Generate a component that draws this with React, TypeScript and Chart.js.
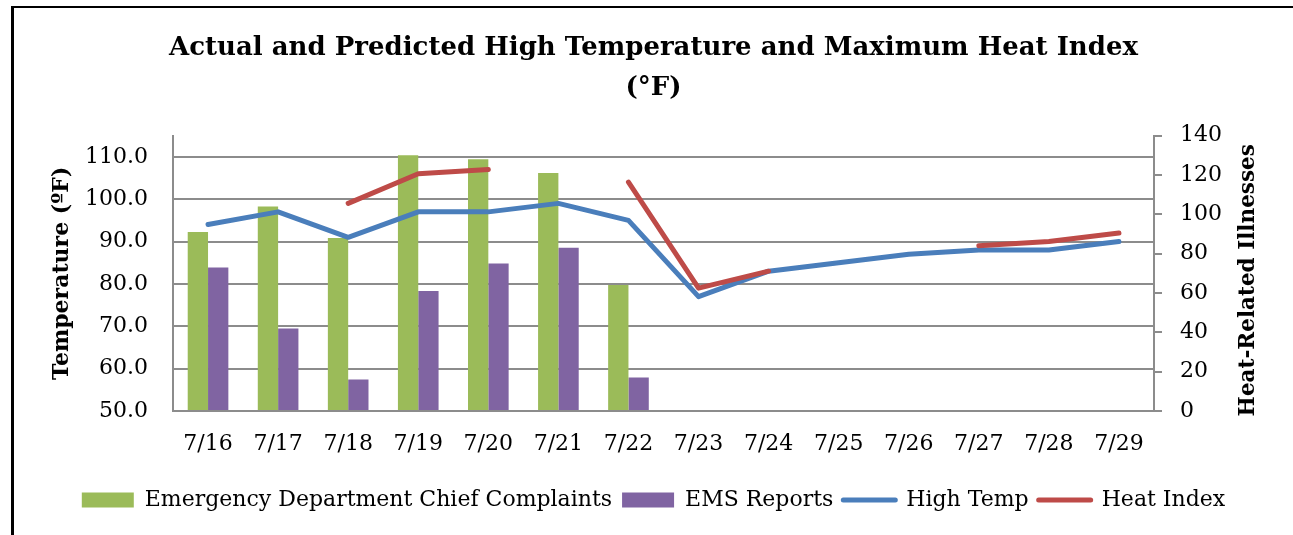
import React, { useEffect, useRef } from 'react';
import { Chart, registerables } from 'chart.js';

Chart.register(...registerables);

const categories = ['7/16', '7/17', '7/18', '7/19', '7/20', '7/21', '7/22', '7/23', '7/24', '7/25', '7/26', '7/27', '7/28', '7/29'];
const edComplaints = [91, 104, 88, 130, 128, 121, 64, null, null, null, null, null, null, null];
const emsReports = [73, 42, 16, 61, 75, 83, 17, null, null, null, null, null, null, null];
const highTemp = [94, 97, 91, 97, 97, 99, 95, 77, 83, 85, 87, 88, 88, 90];
const heatIndex = [null, null, 99, 106, 107, null, 104, 79, 83, null, null, 89, 90, 92];
const leftTicks = [50, 60, 70, 80, 90, 100, 110];
const rightTicks = [0, 20, 40, 60, 80, 100, 120, 140];

const titleLines = ['Actual and Predicted High Temperature and Maximum Heat Index', '(°F)'];
const leftTitle = 'Temperature (ºF)';
const rightTitle = 'Heat-Related Illnesses';

const FONT = "'DejaVu Serif', serif";
const GRID = '#8c8c8c';
const COLORS = { ed: '#9BBB59', ems: '#8064A2', temp: '#4A7EBB', heat: '#BE4B48' };

const rightTitlePlugin = {
  id: 'rightTitle',
  afterDraw(chart: any) {
    const { ctx, chartArea } = chart;
    const s = chart.scales.y1;
    ctx.save();
    ctx.font = `bold 21.5px ${FONT}`;
    ctx.fillStyle = '#000';
    ctx.textAlign = 'center';
    ctx.textBaseline = 'middle';
    ctx.translate(s.right - 45, (chartArea.top + chartArea.bottom) / 2 + 7);
    ctx.rotate(-Math.PI / 2);
    ctx.fillText(rightTitle, 0, 0);
    ctx.restore();
  },
};

export default function App() {
  const ref = useRef<HTMLCanvasElement>(null);

  useEffect(() => {
    if (!ref.current) return;
    const chart = new Chart(ref.current, {
      type: 'bar',
      data: {
        labels: categories,
        datasets: [
          {
            type: 'bar',
            label: 'Emergency Department Chief Complaints',
            data: edComplaints,
            backgroundColor: COLORS.ed,
            yAxisID: 'y1',
            order: 2,
            barPercentage: 1,
            categoryPercentage: 0.58,
          },
          {
            type: 'bar',
            label: 'EMS Reports',
            data: emsReports,
            backgroundColor: COLORS.ems,
            yAxisID: 'y1',
            order: 2,
            barPercentage: 1,
            categoryPercentage: 0.58,
          },
          {
            type: 'line',
            label: 'High Temp',
            data: highTemp,
            borderColor: COLORS.temp,
            backgroundColor: COLORS.temp,
            borderWidth: 5,
            pointRadius: 0,
            borderCapStyle: 'round',
            borderJoinStyle: 'round',
            yAxisID: 'y',
            order: 1,
            spanGaps: false,
          },
          {
            type: 'line',
            label: 'Heat Index',
            data: heatIndex,
            borderColor: COLORS.heat,
            backgroundColor: COLORS.heat,
            borderWidth: 5,
            pointRadius: 0,
            borderCapStyle: 'round',
            borderJoinStyle: 'round',
            yAxisID: 'y',
            order: 0,
            spanGaps: false,
          },
        ],
      } as any,
      options: {
        animation: false,
        responsive: false,
        devicePixelRatio: 1,
        layout: { padding: { left: 0, right: 0, top: 0, bottom: 14 } },
        plugins: {
          tooltip: { enabled: false },
          title: {
            display: true,
            text: titleLines,
            color: '#000',
            font: { family: FONT, size: 26, weight: 'bold', lineHeight: 1.55 },
            padding: { top: 20, bottom: 27 },
          },
          legend: {
            position: 'bottom',
            labels: {
              usePointStyle: true,
              pointStyleWidth: 52,
              boxHeight: 15,
              padding: 10,
              color: '#000',
              font: { family: FONT, size: 22 },
              generateLabels: (chart: any) => {
                const ds = chart.data.datasets;
                return ds.map((d: any, i: number) => {
                  const isLine = d.type === 'line';
                  return {
                    text: d.label,
                    datasetIndex: i,
                    fillStyle: d.backgroundColor,
                    strokeStyle: isLine ? d.borderColor : d.backgroundColor,
                    lineWidth: isLine ? 5 : 0,
                    lineCap: 'round',
                    pointStyle: isLine ? 'line' : 'rect',
                    fontColor: '#000',
                    hidden: false,
                  };
                });
              },
            },
          },
        },
        scales: {
          x: {
            grid: { display: false, drawTicks: false },
            border: { display: true, color: GRID, width: 2 },
            ticks: {
              color: '#000',
              font: { family: FONT, size: 22 },
              padding: 20,
              maxRotation: 0,
              autoSkip: false,
            },
            afterFit: (s: any) => {
              s.height = 68;
            },
          },
          y: {
            position: 'left',
            min: 50,
            max: 115,
            afterBuildTicks: (s: any) => {
              s.ticks = leftTicks.map((v) => ({ value: v }));
            },
            grid: { color: GRID, lineWidth: 2, drawTicks: false },
            border: { display: true, color: GRID, width: 2 },
            ticks: {
              color: '#000',
              font: { family: FONT, size: 22 },
              padding: 25,
              callback: (v: any) => Number(v).toFixed(1),
            },
            title: {
              display: true,
              text: leftTitle,
              color: '#000',
              font: { family: FONT, size: 22, weight: 'bold' },
              padding: { top: 35, bottom: 0 },
            },
            afterFit: (s: any) => {
              s.width = 159;
            },
          },
          y1: {
            position: 'right',
            min: 0,
            max: 140,
            afterBuildTicks: (s: any) => {
              s.ticks = rightTicks.map((v) => ({ value: v }));
            },
            grid: { drawOnChartArea: false, drawTicks: true, tickLength: 8, color: GRID, lineWidth: 2 },
            border: { display: true, color: GRID, width: 2 },
            ticks: {
              color: '#000',
              font: { family: FONT, size: 22 },
              padding: 18,
            },
            afterFit: (s: any) => {
              s.width = 139;
            },
          },
        },
      } as any,
      plugins: [rightTitlePlugin],
    });
    return () => chart.destroy();
  }, []);

  return (
    <div
      style={{
        position: 'absolute',
        left: 11,
        top: 6,
        width: 1279,
        height: 527,
        borderLeft: '3px solid #000',
        borderTop: '2px solid #000',
        background: '#fff',
      }}
    >
      <canvas ref={ref} width={1279} height={527} style={{ display: 'block', width: 1279, height: 527 }} />
    </div>
  );
}
